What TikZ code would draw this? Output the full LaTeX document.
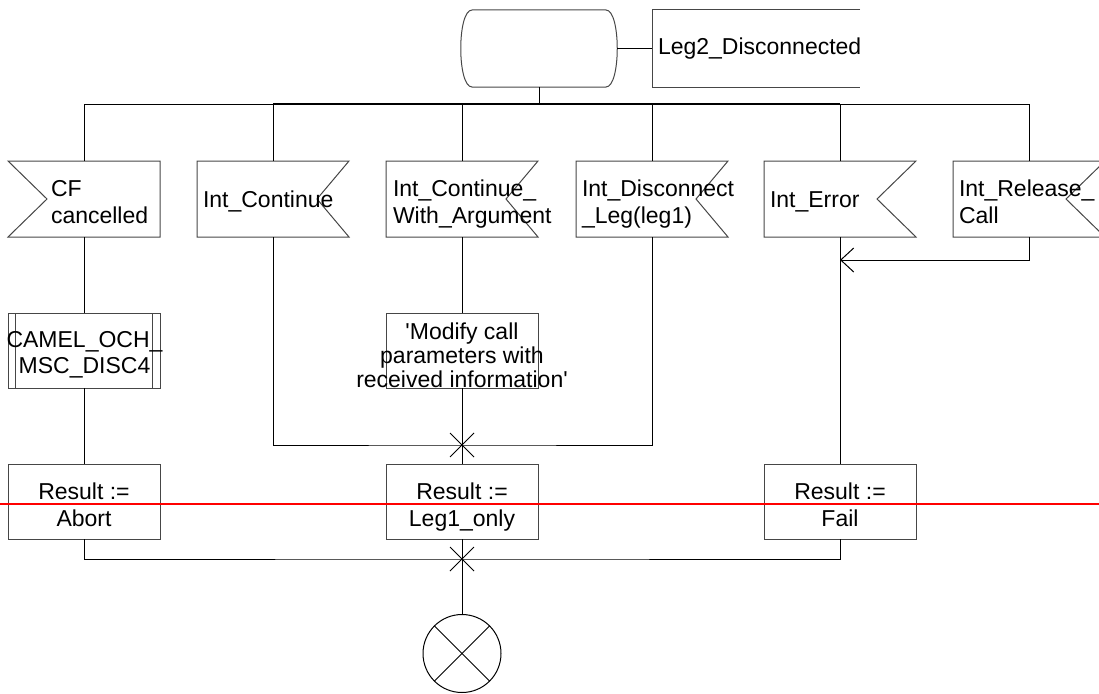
\documentclass[tikz,border=0pt]{standalone}
\usepackage{fontspec}
\setmainfont{Liberation Sans}
\usetikzlibrary{calc,arrows.meta}
\definecolor{bordercol}{RGB}{70,70,70}
\newcommand\tlft[1]{\begin{tabular}[t]{@{}l@{}}#1\end{tabular}}
\newcommand\tctr[1]{\begin{tabular}[t]{@{}c@{}}#1\end{tabular}}
\begin{document}
\begin{tikzpicture}[x=1pt,y=-1pt,line width=1pt,
  shp/.style={minimum width=152pt,minimum height=76pt,inner sep=0pt,outer sep=0pt},
  box/.style={draw=bordercol,minimum width=152pt,minimum height=75pt,inner sep=0pt,outer sep=0pt},
  outl/.style={draw=bordercol,line width=1pt},
  txt/.style={inner sep=0pt,outer sep=0pt,font=\fontsize{23}{27}\selectfont},
  ln/.style={draw=black,line width=1pt},
  thk/.style={draw=black,line width=1.6pt}]
\useasboundingbox (0,0) rectangle (1099,693);

% state and comment
\node[shp,minimum width=155pt,minimum height=77pt] (state) at (539.5,48.5) {};
\draw[outl] (472,10) -- (606,10) .. controls (621,10) and (621,87) .. (606,87) -- (472,87) .. controls (457,87) and (457,10) .. (472,10);
\node[shp,minimum width=208pt,minimum height=77pt] (cmt) at (756,48.5) {};
\draw[outl] (cmt.north east) -- (cmt.north west) -- (cmt.south west) -- (cmt.south east);
\node[txt,anchor=base west] (tcmt) at (658,55) {Leg2\_Disconnected};
\draw[ln] (state.east) -- (cmt.west);

% input signals
\node[shp] (cf) at (84,199) {};
\draw[outl] (cf.north west) -- (cf.north east) -- (cf.south east) -- (cf.south west) -- ($(cf.west)+(39,0)$) -- cycle;
\node[shp] (ic) at (273,199) {};
\draw[outl] (ic.north west) -- (ic.north east) -- ($(ic.east)+(-32,0)$) -- (ic.south east) -- (ic.south west) -- cycle;
\node[shp] (icwa) at (462,199) {};
\draw[outl] (icwa.north west) -- (icwa.north east) -- ($(icwa.east)+(-32,0)$) -- (icwa.south east) -- (icwa.south west) -- cycle;
\node[shp] (idl) at (652,199) {};
\draw[outl] (idl.north west) -- (idl.north east) -- ($(idl.east)+(-32,0)$) -- (idl.south east) -- (idl.south west) -- cycle;
\node[shp] (ie) at (840,199) {};
\draw[outl] (ie.north west) -- (ie.north east) -- ($(ie.east)+(-39,0)$) -- (ie.south east) -- (ie.south west) -- cycle;
\node[shp] (irc) at (1029,199) {};
\draw[outl] (irc.north west) -- (irc.north east) -- ($(irc.east)+(-39,0)$) -- (irc.south east) -- (irc.south west) -- cycle;

\node[txt,anchor=base west] (tcf) at (51,196) {\tlft{CF\\cancelled}};
\node[txt,anchor=base west] (tic) at (203,207) {Int\_Continue};
\node[txt,anchor=base west] (ticwa) at (393,196) {\tlft{Int\_Continue\_\\With\_Argument}};
\node[txt,anchor=base west] (tidl) at (582,196) {\tlft{Int\_Disconnect\\\_Leg(leg1)}};
\node[txt,anchor=base west] (tie) at (770,207) {Int\_Error};
\node[txt,anchor=base west] (tirc) at (959,196) {\tlft{Int\_Release\_\\Call}};

% procedure and task
\node[box] (proc) at (84,350.5) {};
\draw[outl] ($(proc.north west)+(7.5,0)$) -- ($(proc.south west)+(7.5,0)$);
\draw[outl] ($(proc.north east)+(-7.5,0)$) -- ($(proc.south east)+(-7.5,0)$);
\node[txt,anchor=base] (tproc) at (84.5,347) {\fontsize{23}{26}\selectfont\tctr{CAMEL\_OCH\_\\MSC\_DISC4}};
\node[box] (task) at (462,350.5) {};
\node[txt,anchor=base] (ttask) at (462,339) {\fontsize{23}{24}\selectfont\tctr{\textquotesingle Modify call\\parameters with\\received information\textquotesingle}};

% results
\node[box] (rab) at (84,501.5) {};
\node[box] (rl1) at (462,501.5) {};
\node[box] (rfa) at (840,501.5) {};
\node[txt,anchor=base] (trab) at (84,499) {\tctr{Result :=\\Abort}};
\node[txt,anchor=base] (trl1) at (462,499) {\tctr{Result :=\\Leg1\_only}};
\node[txt,anchor=base] (trfa) at (840,499) {\tctr{Result :=\\Fail}};

% stop
\node[draw=black,circle,minimum size=78pt,inner sep=0pt,outer sep=0pt] (stop) at (462,653.5) {};
\draw[ln] (stop.north west) -- (stop.south east);
\draw[ln] (stop.north east) -- (stop.south west);

% connectors
\coordinate (busL) at (84,104);
\coordinate (busR) at (1029,104);
\draw[ln] (busL) -- (busR);
\draw[thk] (ic.north |- busL) -- (ie.north |- busL);
\draw[thk] (state.south) -- (state.south |- busL);
\foreach \s in {cf,ic,icwa,idl,ie,irc} \draw[ln] (\s.north) -- (\s.north |- busL);

\draw[ln] (cf.south) -- (proc.north);
\draw[ln] (proc.south) -- (rab.north);
\draw[ln] (icwa.south) -- (task.north);
\draw[ln] (task.south) -- (rl1.north);
\coordinate (m1) at (462,445);
\draw[ln] (ic.south) |- (m1) -| (idl.south);
\draw[ln] (ie.south) -- (rfa.north);
\coordinate (arr) at (840,260);
\draw[ln,-{Straight Barb[length=13pt,width=24pt]}] (irc.south) |- (arr);
\coordinate (m2) at (462,559);
\draw[ln] (rab.south) |- (m2) -| (rfa.south);
\draw[ln] (rl1.south) -- (stop.north);
\draw[ln] ($(m1)+(-12,-12)$) -- ($(m1)+(12,12)$);
\draw[ln] ($(m1)+(-12,12)$) -- ($(m1)+(12,-12)$);
\draw[ln] ($(m2)+(-12,-12)$) -- ($(m2)+(12,12)$);
\draw[ln] ($(m2)+(-12,12)$) -- ($(m2)+(12,-12)$);

% red line
\coordinate (redL) at (0,504);
\coordinate (redR) at (1099,504);
\draw[red,line width=1.3pt] (redL) -- (redR);
\end{tikzpicture}
\end{document}
